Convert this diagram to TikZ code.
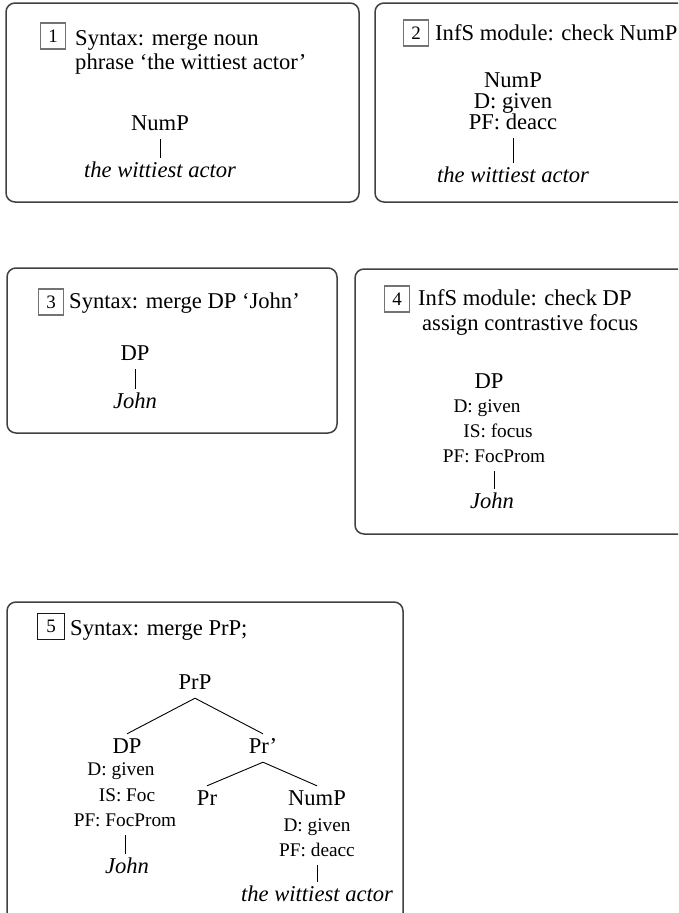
\documentclass[tikz,border=0pt]{standalone}
\usepackage{fontspec}
\setmainfont{Liberation Serif}
\newcommand{\bigtxt}{\fontsize{22.6}{25}\selectfont}
\newcommand{\smalltxt}{\fontsize{19.3}{22}\selectfont}
\begin{document}
\begin{tikzpicture}[x=1pt,y=-1pt,
  panel/.style={draw=black!75, line width=1.5pt, rounded corners=9pt},
  numbox/.style={draw=black!55, line width=1.2pt, minimum width=25pt, minimum height=26pt,
                 inner sep=0pt, font=\fontsize{19}{21}\selectfont},
  head/.style={anchor=base west, inner sep=0pt, font=\bigtxt},
  lab/.style={anchor=base, inner xsep=1pt, inner ysep=4pt, text height=15pt, text depth=5pt, font=\bigtxt},
  feat/.style={anchor=base, inner xsep=1pt, inner ysep=4pt, text height=13pt, text depth=5pt, font=\smalltxt},
  term/.style={lab, font=\bigtxt\itshape},
  branch/.style={line width=0.9pt, black}
]
\useasboundingbox (0,0) rectangle (678,913);
\clip (0,0) rectangle (678,913);

% ---------- panel 1 ----------
\draw[panel] (6,3) rectangle (359,202);
\node[numbox] (n1) at (53,36) {1};
\node[head] (h1a) at (75,45) {Syntax: merge noun};
\node[head] (h1b) at (75,69) {phrase ‘the wittiest actor’};
\node[lab]  (p1numP) at (160,130) {NumP};
\node[term] (p1wit)  at (160,177) {the wittiest actor};
\draw[branch] (p1numP.south) -- (p1numP.south |- p1wit.north);

% ---------- panel 2 ----------
\draw[panel] (375,3) rectangle (700,202);
\node[numbox] (n2) at (416,33) {2};
\node[head] (h2) at (435,40) {InfS module: check NumP};
\node[lab]  (p2numP) at (513,87) {NumP};
\node[lab]  (p2d)    at (513,108) {D: given};
\node[lab]  (p2pf)   at (513,129) {PF: deacc};
\node[term] (p2wit)  at (513,182) {the wittiest actor};
\draw[branch] (p2pf.south) -- (p2pf.south |- p2wit.north);

% ---------- panel 3 ----------
\draw[panel] (7,268) rectangle (337,433);
\node[numbox] (n3) at (51,302) {3};
\node[head] (h3) at (69,308) {Syntax: merge DP ‘John’};
\node[lab]  (p3dp)   at (135,360) {DP};
\node[term] (p3john) at (135,408) {John};
\draw[branch] (p3dp.south) -- (p3dp.south |- p3john.north);

% ---------- panel 4 ----------
\draw[panel] (355,269) rectangle (700,534);
\node[numbox] (n4) at (397,299) {4};
\node[head] (h4a) at (418,305) {InfS module: check DP};
\node[head] (h4b) at (422,330) {assign contrastive focus};
\node[lab]  (p4dp)   at (489,388) {DP};
\node[feat] (p4d)    at (487,412) {D: given};
\node[feat] (p4is)   at (498,437) {IS: focus};
\node[feat] (p4pf)   at (494,462) {PF: FocProm};
\node[term] (p4john) at (492,508) {John};
\draw[branch] (p4pf.south) -- (p4pf.south |- p4john.north);

% ---------- panel 5 ----------
\draw[panel] (7,602) rectangle (403,922);
\node[numbox, draw=black!90, line width=0.9pt, minimum width=27pt] (n5) at (51,626) {5};
\node[head] (h5) at (70,635) {Syntax: merge PrP;};
\node[lab]  (prp)  at (195,689) {PrP};
\node[lab]  (dp)   at (127,753) {DP};
\node[feat] (dpd)  at (121,775) {D: given};
\node[feat] (dpis) at (127,801) {IS: Foc};
\node[feat] (dppf) at (125,826) {PF: FocProm};
\node[term] (john) at (127,873) {John};
\node[lab]  (prb)  at (263,753) {Pr’};
\node[lab]  (pr)   at (207,805) {Pr};
\node[lab]  (nump) at (317,805) {NumP};
\node[feat] (numd) at (317,831) {D: given};
\node[feat] (numpf) at (317,856) {PF: deacc};
\node[term] (wit)  at (317,901) {the wittiest actor};
\draw[branch] (prp.south) -- (dp.north);
\draw[branch] (prp.south) -- (prb.north);
\draw[branch] (prb.south) -- (pr.north);
\draw[branch] (prb.south) -- (nump.north);
\draw[branch] (dppf.south) -- (dppf.south |- john.north);
\draw[branch] (numpf.south) -- (numpf.south |- wit.north);
\end{tikzpicture}
\end{document}
